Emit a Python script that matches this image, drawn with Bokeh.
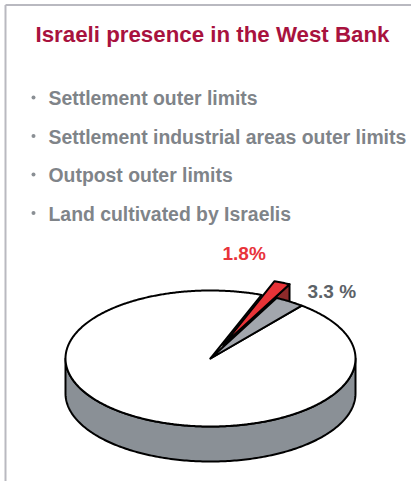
import numpy as np
from bokeh.plotting import figure
from bokeh.models import Range1d
from bokeh.embed import file_html
from bokeh.resources import INLINE
from bokeh.core.properties import value

# ---- data ----
title = "Israeli presence in the West Bank"
items = ["Settlement outer limits",
         "Settlement industrial areas outer limits",
         "Outpost outer limits",
         "Land cultivated by Israelis"]
slice_names = ["3.3 %", "1.8%", "rest"]
slice_values = [3.3, 1.8, 94.9]
slice_labels = ["3.3 %", "1.8%"]

# ---- layout / style ----
W, H = 411, 481
FONT = value("Liberation Sans")
cx, cy, rx, ry, depth = 210.0, 358.0, 145.0, 68.0, 35.0
start_angle = 51.0
explode = 0.22  # red slice pulled out
TXT_DY = -7.5   # compensation for baseline placement

p = figure(width=W, height=H, x_range=Range1d(0, W), y_range=Range1d(H, 0),
           output_backend="svg", toolbar_location=None, min_border=0)
p.axis.visible = False
p.grid.visible = False
p.outline_line_color = None
p.background_fill_color = "white"
p.border_fill_color = "white"

# frame (top and left)
p.segment(x0=[5, 5], y0=[4.5, 4.5], x1=[W, 5], y1=[4.5, H],
          line_color="#b9b9c0", line_width=2)

# title and bullet list
p.text(x=[35], y=[41 + TXT_DY], text=[title], text_font=FONT, text_font_style="bold",
       text_font_size="22.3px", text_color="#a8123e", text_baseline="alphabetic")
ys = [105 + 38.5 * i for i in range(len(items))]
p.text(x=[48] * len(items), y=[y + TXT_DY for y in ys], text=items, text_font=FONT,
       text_font_style="bold", text_font_size="19.4px", text_color="#7f8489",
       text_baseline="alphabetic")
p.scatter(x=[33] * len(items), y=[y - 8 for y in ys], size=4, marker="circle",
          fill_color="#8a8f94", line_color=None)


def pt(theta, r=1.0, off=(0.0, 0.0), dz=0.0):
    t = np.radians(theta)
    return cx + rx * r * np.cos(t) + off[0], cy - ry * r * np.sin(t) + off[1] + dz


def wedge(a0, a1, off=(0.0, 0.0)):
    th = np.linspace(a0, a1, max(3, int(abs(a1 - a0) * 2)))
    xs, ys_ = pt(th, off=off)
    return ([cx + off[0]] + list(xs) + [cx + off[0]],
            [cy + off[1]] + list(ys_) + [cy + off[1]])


# angles from values
total = sum(slice_values)
spans = [v / total * 360.0 for v in slice_values]
g0 = start_angle
g1 = g0 + spans[0]
r1 = g1 + spans[1]
w1 = g0 + 360.0
mid_red = (g1 + r1) / 2
off_red = (rx * explode * np.cos(np.radians(mid_red)),
           -ry * explode * np.sin(np.radians(mid_red)))

# front side band
th = np.linspace(180, 360, 200)
tx, ty = pt(th)
bx, by = pt(th[::-1], dz=depth)
p.patch(list(tx) + list(bx), list(ty) + list(by), fill_color="#8a9096",
        line_color="black", line_width=2, line_join="round")

# red slice radial wall (visible in gap)
ax_, ay_ = cx + off_red[0], cy + off_red[1]
ox, oy = pt(g1, off=off_red)
p.patch([ax_, ox, ox, ax_], [ay_, oy, oy + depth, ay_ + depth],
        fill_color="#8e2a2a", line_color="black", line_width=2, line_join="round")

# top faces
xs, ys2 = wedge(r1, w1)
p.patch(xs, ys2, fill_color="white", line_color="black", line_width=2, line_join="round")
xs, ys2 = wedge(g0, g1)
p.patch(xs, ys2, fill_color="#a2a6ad", line_color="black", line_width=2, line_join="round")
xs, ys2 = wedge(g1, r1, off=off_red)
p.patch(xs, ys2, fill_color="#e83337", line_color="black", line_width=2, line_join="round")

# labels
p.text(x=[307], y=[298 + TXT_DY], text=[slice_labels[0]], text_font=FONT,
       text_font_style="bold", text_font_size="19px", text_color="#5c6267",
       text_baseline="alphabetic")
p.text(x=[222], y=[260 + TXT_DY], text=[slice_labels[1]], text_font=FONT,
       text_font_style="bold", text_font_size="19px", text_color="#e8333a",
       text_baseline="alphabetic")

open("out.html", "w").write(file_html(p, INLINE))
